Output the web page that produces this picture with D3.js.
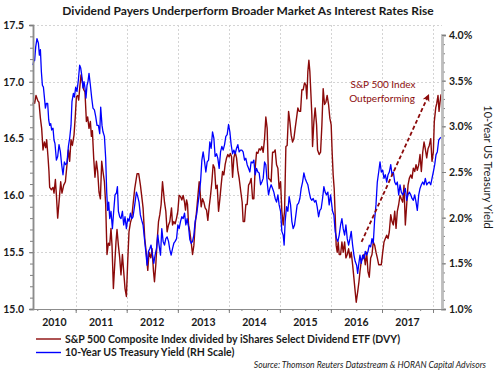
<!DOCTYPE html>
<html>
<head>
<meta charset="utf-8">
<script src="https://cdn.jsdelivr.net/npm/d3@7"></script>
<style>
  body { margin: 0; background: #fff; }
  svg { display: block; }
  text { font-family: Lato, "Open Sans", sans-serif; fill: #1a1a1a; }
</style>
</head>
<body>
<svg id="chart" width="496" height="372"></svg>
<script>
// S&P 500 / DVY ratio (left scale), dates as decimal years
const ratioTimes = [2010.163,2010.180,2010.195,2010.222,2010.261,2010.280,2010.308,2010.333,2010.359,2010.386,2010.412,2010.431,2010.457,2010.476,2010.490,2010.524,2010.555,2010.575,2010.602,2010.622,2010.647,2010.673,2010.706,2010.731,2010.765,2010.798,2010.829,2010.857,2010.882,2010.908,2010.935,2010.967,2010.994,
  2011.014,2011.039,2011.059,2011.078,2011.104,2011.131,2011.157,2011.182,2011.210,2011.235,2011.261,2011.288,2011.308,2011.327,2011.353,2011.378,2011.406,2011.431,2011.457,2011.484,2011.510,2011.535,2011.563,2011.588,2011.614,2011.641,2011.667,2011.692,2011.712,2011.739,2011.765,2011.790,2011.810,2011.837,2011.863,2011.888,2011.916,2011.941,2011.967,2011.994,
  2012.020,2012.045,2012.073,2012.098,2012.124,2012.157,2012.202,2012.235,2012.268,2012.300,2012.320,2012.353,2012.386,2012.412,2012.437,2012.471,2012.496,2012.524,2012.543,2012.569,2012.594,2012.622,2012.647,2012.673,2012.700,2012.720,2012.739,2012.765,2012.790,2012.818,2012.843,2012.876,2012.896,2012.922,2012.947,2012.975,
  2013.000,2013.025,2013.053,2013.078,2013.104,2013.131,2013.150,2013.171,2013.190,2013.210,2013.235,2013.261,2013.288,2013.314,2013.339,2013.367,2013.392,2013.418,2013.437,2013.457,2013.484,2013.510,2013.535,2013.563,2013.588,2013.614,2013.641,2013.667,2013.692,2013.720,2013.745,2013.771,2013.798,2013.824,2013.849,2013.876,2013.902,2013.927,2013.955,2013.980,
  2014.006,2014.030,2014.053,2014.073,2014.098,2014.124,2014.151,2014.176,2014.202,2014.235,2014.261,2014.280,2014.308,2014.333,2014.359,2014.386,2014.412,2014.437,2014.465,2014.490,2014.516,2014.543,2014.569,2014.594,2014.622,2014.647,2014.673,2014.700,2014.725,2014.751,2014.778,2014.804,2014.829,2014.857,2014.882,2014.908,2014.935,2014.961,2014.986,
  2015.014,2015.039,2015.065,2015.092,2015.118,2015.143,2015.171,2015.196,2015.222,2015.249,2015.275,2015.300,2015.327,2015.353,2015.378,2015.406,2015.431,2015.457,2015.484,2015.510,2015.529,2015.549,2015.569,2015.588,2015.608,2015.627,2015.641,2015.667,2015.692,2015.720,2015.739,2015.771,2015.798,2015.824,2015.849,2015.876,2015.902,2015.927,2015.955,2015.980,
  2016.006,2016.025,2016.045,2016.065,2016.084,2016.104,2016.124,2016.143,2016.163,2016.190,2016.216,2016.241,2016.269,2016.294,2016.320,2016.347,2016.373,2016.398,2016.425,2016.451,2016.476,2016.496,2016.524,2016.549,2016.569,2016.594,2016.622,2016.647,2016.673,2016.700,2016.725,2016.751,2016.778,2016.804,2016.829,2016.857,2016.882,2016.908,2016.935,2016.961,2016.986,
  2017.014,2017.039,2017.065,2017.092,2017.118,2017.143,2017.171,2017.196,2017.222,2017.249,2017.275,2017.300,2017.327,2017.353,2017.378,2017.406,2017.431,2017.457,2017.484,2017.510,2017.535,2017.563,2017.588,2017.614,2017.641,2017.667,2017.692,2017.720,2017.745,2017.771,2017.798,2017.824,2017.849,2017.876,2017.902,2017.927,2017.955,2017.980,
  2018.006,2018.025,2018.053,2018.073,2018.098,2018.118,2018.137,2018.157];
const ratioValues = [16.80,16.83,16.81,16.88,16.83,16.82,16.68,16.59,16.40,16.47,16.42,16.49,16.34,16.21,16.07,16.05,16.07,16.02,16.14,16.00,15.80,15.94,16.12,16.02,16.09,16.12,16.27,16.40,16.30,16.49,16.44,16.53,16.71,
  16.87,16.88,16.84,16.94,17.06,17.00,16.93,16.91,16.65,16.69,16.59,16.65,16.52,16.57,16.33,16.16,16.30,16.21,16.03,15.97,16.30,16.21,16.12,15.92,15.48,15.58,15.56,15.71,15.56,15.18,15.39,15.59,15.70,15.56,15.45,15.30,15.48,15.33,15.18,15.11,
  15.42,15.68,15.76,15.80,15.92,16.06,16.19,16.19,16.09,15.97,15.89,15.62,15.48,15.34,15.50,15.45,15.53,15.33,15.24,15.39,15.59,15.77,15.83,15.92,16.12,16.03,15.94,15.86,15.68,15.74,15.77,15.89,15.74,15.77,15.75,15.80,
  15.86,16.00,15.99,15.96,16.00,15.94,15.87,15.96,15.92,15.74,15.68,15.59,15.48,15.56,15.74,15.86,15.99,16.12,16.03,15.90,15.97,15.94,15.89,15.87,15.78,15.90,16.00,16.12,16.27,16.24,16.06,16.09,15.86,15.97,16.09,16.21,16.18,16.27,16.33,16.36,
  16.34,16.37,16.34,16.16,16.33,16.38,16.33,16.22,16.15,16.03,15.94,15.77,15.77,15.92,15.92,16.09,16.11,16.15,15.97,15.97,16.24,16.38,16.37,16.41,16.40,16.43,16.38,16.50,16.69,16.59,16.15,16.14,16.12,16.38,16.38,16.40,16.27,16.24,16.06,
  16.12,15.86,15.74,15.86,16.43,16.44,16.74,16.65,16.53,16.47,16.50,16.59,16.68,16.77,16.74,16.74,16.93,16.93,16.99,16.97,16.85,17.09,17.19,17.09,16.90,16.71,16.43,16.65,16.77,16.62,16.40,16.36,16.38,16.62,16.94,16.80,16.82,16.88,16.80,16.68,
  16.62,16.38,16.18,16.06,15.83,15.56,15.50,15.59,15.48,15.48,15.59,15.50,15.59,15.45,15.48,15.53,15.45,15.50,15.39,15.27,15.15,15.06,15.15,15.24,15.33,15.42,15.45,15.48,15.39,15.50,15.33,15.28,15.45,15.48,15.59,15.56,15.50,15.45,15.39,15.39,15.39,
  15.50,15.59,15.62,15.65,15.62,15.68,15.83,15.77,15.74,15.86,15.71,15.86,15.92,16.00,15.97,15.94,16.09,15.74,15.92,16.09,16.15,16.18,16.15,16.24,16.21,16.27,16.22,16.27,16.36,16.21,16.38,16.47,16.41,16.33,16.41,16.44,16.50,16.30,
  16.38,16.65,16.77,16.81,16.88,16.74,16.82,16.89];

// 10-Year US Treasury yield, % (right scale)
const yieldTimes = [2010.163,2010.180,2010.195,2010.216,2010.241,2010.269,2010.288,2010.308,2010.327,2010.347,2010.367,2010.386,2010.406,2010.425,2010.451,2010.471,2010.490,2010.510,2010.529,2010.555,2010.575,2010.594,2010.622,2010.647,2010.673,2010.700,2010.725,2010.751,2010.778,2010.804,2010.829,2010.857,2010.882,2010.908,2010.927,2010.955,2010.975,
  2011.000,2011.025,2011.053,2011.078,2011.098,2011.118,2011.143,2011.163,2011.182,2011.202,2011.222,2011.241,2011.261,2011.288,2011.314,2011.339,2011.367,2011.392,2011.418,2011.445,2011.471,2011.490,2011.516,2011.535,2011.563,2011.588,2011.608,2011.627,2011.647,2011.667,2011.692,2011.720,2011.745,2011.771,2011.798,2011.818,2011.837,2011.863,2011.888,2011.916,2011.941,2011.967,2011.994,
  2012.020,2012.045,2012.073,2012.098,2012.124,2012.157,2012.190,2012.216,2012.241,2012.267,2012.294,2012.320,2012.347,2012.373,2012.398,2012.425,2012.451,2012.476,2012.504,2012.529,2012.555,2012.582,2012.608,2012.633,2012.661,2012.686,2012.712,2012.739,2012.765,2012.790,2012.818,2012.843,2012.869,2012.896,2012.922,2012.947,2012.975,
  2013.000,2013.025,2013.053,2013.078,2013.104,2013.131,2013.157,2013.182,2013.210,2013.235,2013.261,2013.288,2013.314,2013.339,2013.367,2013.392,2013.418,2013.445,2013.471,2013.496,2013.524,2013.549,2013.575,2013.602,2013.627,2013.653,2013.680,2013.706,2013.731,2013.759,2013.784,2013.810,2013.837,2013.863,2013.888,2013.916,2013.941,2013.967,2013.994,
  2014.020,2014.045,2014.073,2014.098,2014.124,2014.151,2014.176,2014.202,2014.229,2014.255,2014.280,2014.308,2014.333,2014.359,2014.386,2014.412,2014.437,2014.465,2014.490,2014.516,2014.543,2014.569,2014.594,2014.622,2014.647,2014.673,2014.700,2014.725,2014.751,2014.778,2014.804,2014.829,2014.857,2014.882,2014.908,2014.935,2014.961,2014.986,
  2015.014,2015.039,2015.065,2015.084,2015.104,2015.131,2015.157,2015.182,2015.210,2015.235,2015.261,2015.288,2015.314,2015.339,2015.367,2015.392,2015.418,2015.445,2015.471,2015.496,2015.524,2015.549,2015.575,2015.602,2015.627,2015.653,2015.680,2015.706,2015.731,2015.759,2015.784,2015.810,2015.837,2015.863,2015.888,2015.916,2015.941,2015.967,2015.994,
  2016.033,2016.059,2016.084,2016.112,2016.137,2016.163,2016.190,2016.216,2016.241,2016.269,2016.294,2016.320,2016.347,2016.373,2016.398,2016.425,2016.451,2016.476,2016.504,2016.524,2016.543,2016.569,2016.594,2016.622,2016.647,2016.673,2016.700,2016.725,2016.751,2016.778,2016.804,2016.829,2016.857,2016.882,2016.908,2016.935,2016.961,2016.986,
  2017.014,2017.039,2017.065,2017.092,2017.118,2017.143,2017.171,2017.196,2017.222,2017.249,2017.275,2017.300,2017.327,2017.353,2017.378,2017.406,2017.431,2017.457,2017.484,2017.510,2017.535,2017.563,2017.588,2017.614,2017.641,2017.667,2017.692,2017.720,2017.745,2017.771,2017.798,2017.824,2017.849,2017.876,2017.902,2017.927,2017.955,2017.980,
  2018.006,2018.033,2018.059,2018.084,2018.112,2018.137,2018.163];
const yieldValues = [3.67,3.72,3.72,3.87,3.96,3.91,3.78,3.84,3.60,3.45,3.43,3.32,3.20,3.25,3.25,3.07,3.01,3.03,2.96,2.98,2.85,2.81,2.63,2.67,2.80,2.72,2.58,2.47,2.61,2.58,2.60,2.78,2.87,3.01,3.27,3.36,3.32,
  3.43,3.38,3.51,3.67,3.64,3.56,3.42,3.49,3.42,3.31,3.45,3.49,3.58,3.45,3.31,3.20,3.18,3.11,3.01,3.01,2.92,3.21,3.01,2.94,2.89,2.65,2.28,2.08,2.17,1.99,2.07,1.88,2.07,2.25,2.27,2.34,2.07,2.01,1.99,2.07,1.92,2.01,1.88,
  1.99,1.96,2.05,1.99,2.01,2.14,2.28,2.23,2.17,2.03,1.97,1.92,1.77,1.63,1.48,1.63,1.66,1.70,1.59,1.50,1.59,1.66,1.81,1.70,1.59,1.88,1.74,1.70,1.77,1.79,1.74,1.65,1.59,1.66,1.72,1.74,1.77,
  1.92,1.88,1.96,2.01,1.99,2.05,1.92,1.99,1.90,1.76,1.72,1.74,1.81,1.96,2.03,2.14,2.25,2.39,2.63,2.72,2.61,2.50,2.61,2.63,2.83,2.76,2.94,2.87,2.67,2.70,2.65,2.54,2.72,2.78,2.74,2.80,2.89,2.91,3.02,
  2.94,2.80,2.70,2.74,2.70,2.76,2.80,2.72,2.74,2.74,2.72,2.63,2.65,2.58,2.54,2.50,2.61,2.60,2.63,2.47,2.54,2.50,2.49,2.36,2.39,2.43,2.61,2.58,2.39,2.25,2.32,2.36,2.32,2.28,2.21,2.17,2.25,2.14,
  2.07,1.85,1.81,1.70,1.96,2.12,2.07,2.23,2.14,1.96,1.88,1.92,2.03,2.14,2.16,2.21,2.32,2.39,2.49,2.43,2.39,2.36,2.28,2.21,2.19,2.21,2.17,2.19,2.12,2.01,2.08,2.10,2.21,2.34,2.28,2.25,2.28,2.14,2.25,
  2.07,2.03,1.85,1.77,1.74,1.81,1.92,1.99,1.88,1.81,1.92,1.77,1.70,1.77,1.85,1.70,1.59,1.52,1.48,1.39,1.48,1.59,1.50,1.59,1.55,1.63,1.59,1.63,1.70,1.68,1.77,1.72,1.99,2.14,2.39,2.50,2.61,2.50,
  2.52,2.43,2.47,2.39,2.47,2.50,2.58,2.47,2.50,2.39,2.36,2.39,2.25,2.36,2.28,2.25,2.28,2.32,2.19,2.25,2.28,2.25,2.21,2.19,2.25,2.17,2.08,2.25,2.32,2.36,2.39,2.36,2.43,2.36,2.38,2.39,2.36,2.43,
  2.50,2.58,2.69,2.72,2.85,2.87,2.88];

const yearLabels = [2010, 2011, 2012, 2013, 2014, 2015, 2016, 2017];
const leftTicks = [15.0, 15.5, 16.0, 16.5, 17.0, 17.5];
const rightTicks = [1.0, 1.5, 2.0, 2.5, 3.0, 3.5, 4.0];
const domainYears = [2010.163, 2018.176];
// annotation arrow: [decimal year, ratio value]
const arrowFrom = [2016.60, 15.59];
const arrowTo = [2017.91, 16.88];

const seriesNames = ["S&P 500 Composite Index divided by iShares Select Dividend ETF (DVY)",
                     "10-Year US Treasury Yield (RH Scale)"];
const RED = "#8b0a0a", BLUE = "#0000ff";

const toDate = t => {
  const y = Math.floor(t);
  const a = new Date(y, 0, 1), b = new Date(y + 1, 0, 1);
  return new Date(+a + (t - y) * (b - a));
};

const svg = d3.select("#chart");
const plotLeft = 33, plotRight = 442, plotTop = 25, plotBottom = 309;

const x = d3.scaleTime().domain(domainYears.map(toDate)).range([plotLeft, plotRight]);
const yL = d3.scaleLinear().domain([15, 17.5]).range([plotBottom, plotTop]);
const yR = d3.scaleLinear().domain([1, 4]).range([plotBottom, 35]);

// title
svg.append("text")
  .attr("x", 248).attr("y", 15)
  .attr("text-anchor", "middle")
  .style("font-size", "12px").style("font-weight", "bold")
  .text("Dividend Payers Underperform Broader Market As Interest Rates Rise");

// gridlines
const grid = svg.append("g").attr("stroke", "#d4d4d4").attr("stroke-dasharray", "2,2").attr("stroke-width", 1);
grid.selectAll(".hg").data(leftTicks.slice(1)).enter().append("line")
  .attr("x1", plotLeft).attr("x2", plotRight)
  .attr("y1", d => Math.round(yL(d)) + 0.5).attr("y2", d => Math.round(yL(d)) + 0.5);
const yearStarts = d3.range(2011, 2019).map(y => new Date(y, 0, 1));
grid.selectAll(".vg").data(yearStarts).enter().append("line")
  .attr("x1", d => Math.round(x(d)) + 0.5).attr("x2", d => Math.round(x(d)) + 0.5)
  .attr("y1", plotTop).attr("y2", plotBottom);

// lines
const ratioData = ratioTimes.map((t, i) => [toDate(t), ratioValues[i]]);
const yieldData = yieldTimes.map((t, i) => [toDate(t), yieldValues[i]]);

svg.append("path").datum(ratioData)
  .attr("fill", "none").attr("stroke", RED).attr("stroke-width", 1.4).attr("stroke-linejoin", "round")
  .attr("d", d3.line().x(d => x(d[0])).y(d => yL(d[1])));
svg.append("path").datum(yieldData)
  .attr("fill", "none").attr("stroke", BLUE).attr("stroke-width", 1.3).attr("stroke-linejoin", "round")
  .attr("d", d3.line().x(d => x(d[0])).y(d => yR(d[1])));

// left axis
const gL = svg.append("g").attr("transform", `translate(${plotLeft},0)`);
gL.call(d3.axisLeft(yL).tickValues(d3.range(150, 176).map(v => v / 10)).tickSize(3).tickFormat(""));
gL.append("g").call(d3.axisLeft(yL).tickValues(leftTicks).tickSize(4).tickPadding(5).tickFormat(d3.format(".1f")));
gL.selectAll("path.domain").attr("stroke", "#8c8c8c").attr("stroke-width", 1.5);
gL.selectAll("line").attr("stroke", "#7f7f7f");
gL.selectAll("text").style("font-size", "10.5px").style("font-weight", "bold").attr("fill", "#1a1a1a");

// right axis
const gR = svg.append("g").attr("transform", `translate(${plotRight},0)`);
gR.call(d3.axisRight(yR).tickValues(d3.range(10, 41).map(v => v / 10)).tickSize(3).tickFormat(""));
gR.append("g").call(d3.axisRight(yR).tickValues(rightTicks).tickSize(4).tickPadding(3).tickFormat(d => d3.format(".1f")(d) + "%"));
gR.selectAll("path.domain").attr("stroke", "#bdbdbd").attr("stroke-width", 2.5);
gR.selectAll("line").attr("stroke", "#7f7f7f");
gR.selectAll("text").style("font-size", "10.5px").style("font-weight", "bold").attr("fill", "#1a1a1a");

svg.append("text")
  .attr("transform", "translate(484,167) rotate(90)")
  .attr("text-anchor", "middle")
  .style("font-size", "11px")
  .text("10-Year US Treasury Yield");

// bottom axis
const quarters = [];
for (let y = 2010; y <= 2018; y++) for (let q = 0; q < 4; q++) {
  const d = new Date(y, q * 3, 1);
  if (d >= x.domain()[0] && d <= x.domain()[1]) quarters.push(d);
}
const gB = svg.append("g").attr("transform", `translate(0,${plotBottom})`);
gB.call(d3.axisBottom(x).tickValues(quarters).tickSize(2).tickFormat("").tickSizeOuter(0));
gB.append("g").call(d3.axisBottom(x).tickValues(yearStarts).tickSize(4).tickFormat("").tickSizeOuter(0));
gB.selectAll("path.domain").attr("stroke", "#8c8c8c").attr("stroke-width", 1.2);
gB.selectAll("line").attr("stroke", "#7f7f7f");

svg.selectAll(".year").data(yearLabels).enter().append("text")
  .attr("x", d => {
    const a = Math.max(x(new Date(d, 0, 1)), plotLeft);
    const b = Math.min(x(new Date(d + 1, 0, 1)), plotRight);
    return (a + b) / 2;
  })
  .attr("y", 326)
  .attr("text-anchor", "middle")
  .style("font-size", "10.5px").style("font-weight", "bold")
  .text(d => d);

// annotation
svg.append("defs").append("marker")
  .attr("id", "arr").attr("viewBox", "0 0 10 10").attr("refX", 8).attr("refY", 5)
  .attr("markerWidth", 4).attr("markerHeight", 4).attr("orient", "auto")
  .append("path").attr("d", "M0,0 L10,5 L0,10 L3,5 Z").attr("fill", RED);
svg.append("line")
  .attr("x1", x(toDate(arrowFrom[0]))).attr("y1", yL(arrowFrom[1]))
  .attr("x2", x(toDate(arrowTo[0]))).attr("y2", yL(arrowTo[1]))
  .attr("stroke", RED).attr("stroke-width", 1.8).attr("stroke-dasharray", "4,2.5")
  .attr("marker-end", "url(#arr)");
const note = svg.append("text").attr("text-anchor", "middle").style("font-size", "10px").attr("fill", RED);
note.append("tspan").attr("x", 383).attr("y", 88).attr("fill", RED).text("S&P 500 Index");
note.append("tspan").attr("x", 382).attr("y", 102).attr("fill", RED).text("Outperforming");

// legend
const legend = svg.append("g");
[RED, BLUE].forEach((c, i) => {
  const yy = 339 + i * 13.5;
  legend.append("line").attr("x1", 36).attr("x2", 61).attr("y1", yy).attr("y2", yy)
    .attr("stroke", c).attr("stroke-width", 1.4);
  legend.append("text").attr("x", 65).attr("y", yy).attr("dy", "0.35em")
    .style("font-size", "10.5px").style("font-weight", "bold").text(seriesNames[i]);
});

svg.append("text")
  .attr("x", 486).attr("y", 368)
  .attr("text-anchor", "end")
  .style("font-size", "8.6px").style("font-style", "italic").attr("fill", "#595959")
  .text("Source: Thomson Reuters Datastream & HORAN Capital Advisors");
</script>
</body>
</html>
